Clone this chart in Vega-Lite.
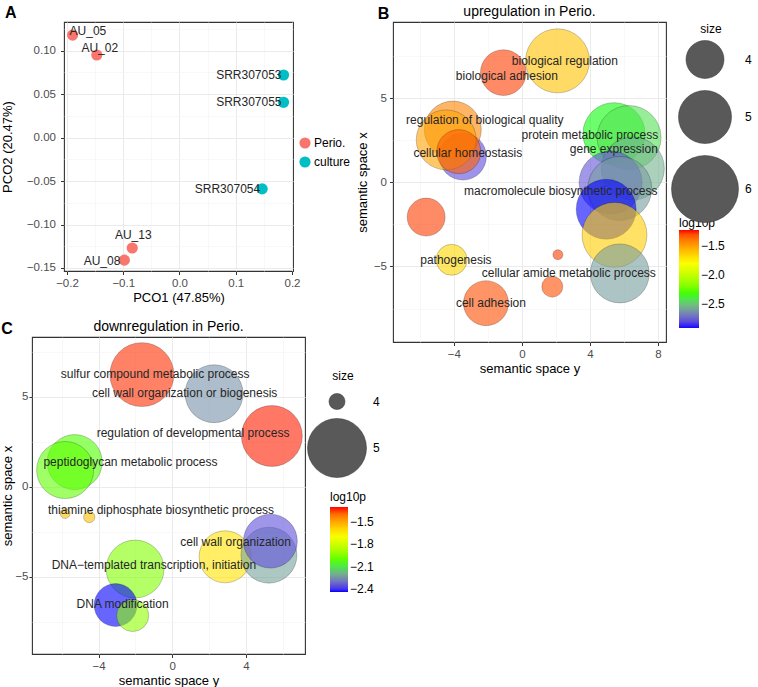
{
 "$schema": "https://vega.github.io/schema/vega-lite/v6.json",
 "background": "white",
 "padding": {"left": 1, "top": 4, "right": 0, "bottom": 0},
 "datasets": {
  "pcoa": [
   {"sample": "AU_05", "group": "Perio.", "PCO1": -0.19, "PCO2": 0.118},
   {"sample": "AU_02", "group": "Perio.", "PCO1": -0.147, "PCO2": 0.095},
   {"sample": "AU_13", "group": "Perio.", "PCO1": -0.084, "PCO2": -0.127},
   {"sample": "AU_08", "group": "Perio.", "PCO1": -0.098, "PCO2": -0.141},
   {"sample": "SRR307053", "group": "culture", "PCO1": 0.185, "PCO2": 0.072},
   {"sample": "SRR307055", "group": "culture", "PCO1": 0.185, "PCO2": 0.0406},
   {"sample": "SRR307054", "group": "culture", "PCO1": 0.147, "PCO2": -0.059}
  ],
  "up": [
   {"term": "biological adhesion", "x": -1.09, "y": 6.53, "size": 4.5, "log10p": -1.27},
   {"term": "biological regulation", "x": 2.1, "y": 7.23, "size": 5.78, "log10p": -1.6},
   {"term": "cellular homeostasis", "x": -3.47, "y": 1.54, "size": 4.59, "log10p": -2.8},
   {"term": "regulation of biological quality", "x": -4.06, "y": 3.14, "size": 5.28, "log10p": -1.42},
   {"term": "term up 5", "x": -4.45, "y": 2.53, "size": 5.49, "log10p": -1.5},
   {"term": "term up 6", "x": -3.71, "y": 1.83, "size": 4.39, "log10p": -1.33},
   {"term": "protein metabolic process", "x": 5.42, "y": 2.9, "size": 5.64, "log10p": -2.35},
   {"term": "term up 8", "x": 6.31, "y": 2.67, "size": 5.78, "log10p": -2.42},
   {"term": "gene expression", "x": 6.53, "y": 0.83, "size": 5.71, "log10p": -2.55},
   {"term": "term up 10", "x": 5.22, "y": -0.01, "size": 5.71, "log10p": -2.78},
   {"term": "term up 11", "x": 5.76, "y": -0.36, "size": 5.78, "log10p": -2.6},
   {"term": "macromolecule biosynthetic process", "x": 4.96, "y": -1.6, "size": 5.49, "log10p": -2.91},
   {"term": "term up 13", "x": 5.45, "y": -3.12, "size": 5.85, "log10p": -1.63},
   {"term": "cellular amide metabolic process", "x": 5.76, "y": -5.41, "size": 5.42, "log10p": -2.6},
   {"term": "term up 15", "x": -5.63, "y": -2.06, "size": 4.0, "log10p": -1.27},
   {"term": "pathogenesis", "x": -4.13, "y": -4.6, "size": 3.58, "log10p": -1.66},
   {"term": "term up 17", "x": 2.12, "y": -4.3, "size": 2.68, "log10p": -1.27},
   {"term": "term up 18", "x": 1.79, "y": -6.2, "size": 3.07, "log10p": -1.3},
   {"term": "cell adhesion", "x": -2.11, "y": -7.18, "size": 4.45, "log10p": -1.3}
  ],
  "up_labels": [
   {"label": "biological regulation", "x": 2.53, "y": 7.22},
   {"label": "biological adhesion", "x": -0.88, "y": 6.33},
   {"label": "regulation of biological quality", "x": -2.18, "y": 3.73},
   {"label": "cellular homeostasis", "x": -3.18, "y": 1.72},
   {"label": "protein metabolic process", "x": 4.0, "y": 2.84},
   {"label": "gene expression", "x": 5.41, "y": 2.01},
   {"label": "macromolecule biosynthetic process", "x": 2.29, "y": -0.53},
   {"label": "pathogenesis", "x": -3.88, "y": -4.62},
   {"label": "cellular amide metabolic process", "x": 2.76, "y": -5.38},
   {"label": "cell adhesion", "x": -1.82, "y": -7.16}
  ],
  "down": [
   {"term": "sulfur compound metabolic process", "x": -1.65, "y": 6.24, "size": 5.19, "log10p": -1.32},
   {"term": "cell wall organization or biogenesis", "x": 2.27, "y": 5.18, "size": 4.96, "log10p": -2.25},
   {"term": "regulation of developmental process", "x": 5.41, "y": 2.83, "size": 5.07, "log10p": -1.31},
   {"term": "peptidoglycan metabolic process", "x": -5.3, "y": 1.38, "size": 4.86, "log10p": -2.02},
   {"term": "term down 5", "x": -5.82, "y": 0.94, "size": 4.93, "log10p": -2.0},
   {"term": "thiamine diphosphate biosynthetic process", "x": -5.82, "y": -1.48, "size": 3.95, "log10p": -1.55},
   {"term": "term down 7", "x": -4.51, "y": -1.67, "size": 3.96, "log10p": -1.55},
   {"term": "term down 8", "x": 2.87, "y": -3.88, "size": 4.76, "log10p": -1.62},
   {"term": "term down 9", "x": 5.25, "y": -3.79, "size": 4.89, "log10p": -2.22},
   {"term": "cell wall organization", "x": 5.33, "y": -3.01, "size": 4.82, "log10p": -2.36},
   {"term": "DNA−templated transcription, initiation", "x": -2.02, "y": -4.56, "size": 4.96, "log10p": -1.95},
   {"term": "DNA modification", "x": -3.08, "y": -6.56, "size": 4.49, "log10p": -2.44},
   {"term": "term down 13", "x": -2.15, "y": -7.14, "size": 4.24, "log10p": -1.93}
  ],
  "down_labels": [
   {"label": "sulfur compound metabolic process", "x": -0.93, "y": 6.26},
   {"label": "cell wall organization or biogenesis", "x": 0.67, "y": 5.21},
   {"label": "regulation of developmental process", "x": 1.13, "y": 2.98},
   {"label": "peptidoglycan metabolic process", "x": -2.27, "y": 1.41},
   {"label": "thiamine diphosphate biosynthetic process", "x": -0.61, "y": -1.28},
   {"label": "cell wall organization", "x": 3.44, "y": -3.04},
   {"label": "DNA−templated transcription, initiation", "x": -1.0, "y": -4.33},
   {"label": "DNA modification", "x": -2.7, "y": -6.5}
  ]
 },
 "spacing": -25,
 "resolve": {"scale": {"color": "independent", "size": "independent"}, "legend": {"color": "independent", "size": "independent"}},
 "hconcat": [
  {
   "columns": 1,
   "align": "none",
   "spacing": 14,
   "resolve": {"scale": {"color": "independent", "size": "independent"}, "legend": {"color": "independent", "size": "independent"}},
   "concat": [
    {
     "spacing": -35,
     "hconcat": [
      {"width": 1, "height": 1, "view": {"stroke": null}, "data": {"values": [{"v": 0}]}, "mark": {"type": "point", "opacity": 0}, "encoding": {}},
      {
       "width": 229, "height": 249,
       "title": {"text": "A", "anchor": "start", "frame": "bounds", "fontSize": 16, "fontWeight": "bold", "offset": 1, "dx": 3},
       "data": {"name": "pcoa"},
       "encoding": {
        "x": {"field": "PCO1", "type": "quantitative",
         "scale": {"domain": [-0.2053, 0.2018], "nice": false, "zero": false},
         "axis": {"title": "PCO1 (47.85%)", "values": [-0.2, -0.15, -0.1, -0.05, 0, 0.05, 0.1, 0.15, 0.2],
          "labelExpr": "abs(datum.value*10-round(datum.value*10))<0.001 ? format(datum.value,'.1f') : ''",
          "gridColor": {"condition": {"test": "abs(datum.value*10-round(datum.value*10))<0.001", "value": "#EBEBEB"}, "value": "#F4F4F4"},
          "gridWidth": {"condition": {"test": "abs(datum.value*10-round(datum.value*10))<0.001", "value": 1}, "value": 0.6},
          "tickOpacity": {"condition": {"test": "abs(datum.value*10-round(datum.value*10))<0.001", "value": 1}, "value": 0},
          "labelFlush": false, "labelOverlap": false, "titlePadding": 2}},
        "y": {"field": "PCO2", "type": "quantitative",
         "scale": {"domain": [-0.1535, 0.133], "nice": false, "zero": false},
         "axis": {"title": "PCO2 (20.47%)", "values": [-0.15, -0.125, -0.1, -0.075, -0.05, -0.025, 0, 0.025, 0.05, 0.075, 0.1, 0.125],
          "labelExpr": "abs(datum.value*20-round(datum.value*20))<0.001 ? format(datum.value,'.2f') : ''",
          "gridColor": {"condition": {"test": "abs(datum.value*20-round(datum.value*20))<0.001", "value": "#EBEBEB"}, "value": "#F4F4F4"},
          "gridWidth": {"condition": {"test": "abs(datum.value*20-round(datum.value*20))<0.001", "value": 1}, "value": 0.6},
          "tickOpacity": {"condition": {"test": "abs(datum.value*20-round(datum.value*20))<0.001", "value": 1}, "value": 0},
          "labelFlush": false, "labelOverlap": false, "labelPadding": 5, "titlePadding": 11.5}}
       },
       "layer": [
        {"mark": {"type": "circle", "size": 125, "opacity": 1},
         "encoding": {"color": {"field": "group", "type": "nominal",
          "scale": {"domain": ["Perio.", "culture"], "range": ["#F8766D", "#00BFC4"]},
          "legend": {"title": null, "orient": "none", "legendX": 267, "legendY": 115, "symbolType": "circle", "symbolSize": 125, "labelFontSize": 12, "rowPadding": 7, "labelOffset": 3, "symbolStrokeWidth": 0}}}},
        {"transform": [{"filter": "datum.sample === 'AU_05'"}],
         "mark": {"type": "text", "align": "left", "dx": -3, "dy": -4, "fontSize": 12, "color": "#262626"},
         "encoding": {"text": {"field": "sample"}}},
        {"transform": [{"filter": "datum.sample === 'AU_02'"}],
         "mark": {"type": "text", "align": "center", "dx": 3, "dy": -7, "fontSize": 12, "color": "#262626"},
         "encoding": {"text": {"field": "sample"}}},
        {"transform": [{"filter": "datum.sample === 'AU_13'"}],
         "mark": {"type": "text", "align": "center", "dx": 1, "dy": -13, "fontSize": 12, "color": "#262626"},
         "encoding": {"text": {"field": "sample"}}},
        {"transform": [{"filter": "datum.group === 'culture'"}],
         "mark": {"type": "text", "align": "right", "dx": -2, "fontSize": 12, "color": "#262626"},
         "encoding": {"text": {"field": "sample"}}},
        {"transform": [{"filter": "datum.sample === 'AU_08'"}],
         "mark": {"type": "text", "align": "right", "dx": -4, "dy": 1, "fontSize": 12, "color": "#262626"},
         "encoding": {"text": {"field": "sample"}}}
       ]
      }
     ]
    },
    {
     "title": {"text": "C", "anchor": "start", "frame": "bounds", "fontSize": 16, "fontWeight": "bold", "offset": -18},
     "vconcat": [
      {
       "width": 273, "height": 317,
       "title": {"text": "downregulation in Perio.", "anchor": "middle", "fontSize": 14, "offset": 3},
       "encoding": {
        "x": {"field": "x", "type": "quantitative",
         "scale": {"domain": [-7.62, 7.21], "nice": false, "zero": false},
         "axis": {"title": "semantic space y", "values": [-6, -4, -2, 0, 2, 4, 6],
          "labelExpr": "datum.value % 4 === 0 ? format(datum.value,'d') : ''",
          "gridColor": {"condition": {"test": "datum.value % 4 === 0", "value": "#EBEBEB"}, "value": "#F4F4F4"},
          "gridWidth": {"condition": {"test": "datum.value % 4 === 0", "value": 1}, "value": 0.6},
          "tickOpacity": {"condition": {"test": "datum.value % 4 === 0", "value": 1}, "value": 0},
          "labelFlush": false, "labelOverlap": false, "titlePadding": 2}},
        "y": {"field": "y", "type": "quantitative",
         "scale": {"domain": [-9.28, 8.33], "nice": false, "zero": false},
         "axis": {"title": "semantic space x", "values": [-7.5, -5, -2.5, 0, 2.5, 5, 7.5],
          "labelExpr": "datum.value % 5 === 0 ? format(datum.value,'d') : ''",
          "gridColor": {"condition": {"test": "datum.value % 5 === 0", "value": "#EBEBEB"}, "value": "#F4F4F4"},
          "gridWidth": {"condition": {"test": "datum.value % 5 === 0", "value": 1}, "value": 0.6},
          "tickOpacity": {"condition": {"test": "datum.value % 5 === 0", "value": 1}, "value": 0},
          "tickSize": 3, "labelFlush": false, "labelOverlap": false, "labelPadding": 1, "titlePadding": 0}}
       },
       "layer": [
        {"data": {"name": "down"},
         "mark": {"type": "circle", "fillOpacity": 0.6, "stroke": "#000000", "strokeOpacity": 0.35, "strokeWidth": 0.6},
         "encoding": {
          "size": {"field": "size", "type": "quantitative",
           "scale": {"type": "linear", "domain": [3.92, 5.3], "range": [0, 4450], "zero": false},
           "legend": {"title": "size", "orient": "none", "legendX": 275, "legendY": 34, "values": [4, 5], "format": "d",
            "symbolFillColor": "#595959", "symbolStrokeColor": "#333333", "symbolOpacity": 1, "symbolStrokeWidth": 0.5,
            "titleAnchor": "middle", "titlePadding": 10, "rowPadding": 6, "labelOffset": 6}},
          "color": {"field": "log10p", "type": "quantitative",
           "scale": {"domain": [-2.44, -2.06, -1.68, -1.3], "range": ["#0000FF", "#00FF00", "#FFFF00", "#FF0000"], "interpolate": "lab"},
           "legend": {"title": "log10p", "orient": "none", "direction": "vertical", "legendX": 298, "legendY": 155,
            "values": [-2.4, -2.1, -1.8, -1.5], "format": ".1f", "gradientLength": 85, "gradientThickness": 18, "titlePadding": 3}}
         }},
        {"data": {"name": "down_labels"},
         "mark": {"type": "text", "fontSize": 12, "color": "#262626"},
         "encoding": {"text": {"field": "label"}}}
       ]
      }
     ]
    }
   ]
  },
  {
   "title": {"text": "B", "anchor": "start", "frame": "bounds", "fontSize": 16, "fontWeight": "bold", "offset": -18, "dx": 22},
   "vconcat": [
    {
     "width": 273, "height": 320,
     "title": {"text": "upregulation in Perio.", "anchor": "middle", "fontSize": 14, "offset": 3},
     "encoding": {
      "x": {"field": "x", "type": "quantitative",
       "scale": {"domain": [-7.58, 8.48], "nice": false, "zero": false},
       "axis": {"title": "semantic space y", "values": [-6, -4, -2, 0, 2, 4, 6, 8],
        "labelExpr": "datum.value % 4 === 0 ? format(datum.value,'d') : ''",
        "gridColor": {"condition": {"test": "datum.value % 4 === 0", "value": "#EBEBEB"}, "value": "#F4F4F4"},
        "gridWidth": {"condition": {"test": "datum.value % 4 === 0", "value": 1}, "value": 0.6},
        "tickOpacity": {"condition": {"test": "datum.value % 4 === 0", "value": 1}, "value": 0},
        "labelFlush": false, "labelOverlap": false, "titlePadding": 2}},
      "y": {"field": "y", "type": "quantitative",
       "scale": {"domain": [-9.49, 9.54], "nice": false, "zero": false},
       "axis": {"title": "semantic space x", "values": [-7.5, -5, -2.5, 0, 2.5, 5, 7.5],
        "labelExpr": "datum.value % 5 === 0 ? format(datum.value,'d') : ''",
        "gridColor": {"condition": {"test": "datum.value % 5 === 0", "value": "#EBEBEB"}, "value": "#F4F4F4"},
        "gridWidth": {"condition": {"test": "datum.value % 5 === 0", "value": 1}, "value": 0.6},
        "tickOpacity": {"condition": {"test": "datum.value % 5 === 0", "value": 1}, "value": 0},
        "labelFlush": false, "labelOverlap": false, "titlePadding": 4}}
     },
     "layer": [
      {"data": {"name": "up"},
       "mark": {"type": "circle", "fillOpacity": 0.6, "stroke": "#000000", "strokeOpacity": 0.35, "strokeWidth": 0.6},
       "encoding": {
        "size": {"field": "size", "type": "quantitative",
         "scale": {"type": "pow", "exponent": 2, "domain": [2.554, 6], "range": [0, 4489], "zero": false},
         "legend": {"title": "size", "orient": "none", "legendX": 278, "legendY": 2, "values": [4, 5, 6], "format": "d",
          "symbolFillColor": "#595959", "symbolStrokeColor": "#333333", "symbolOpacity": 1, "symbolStrokeWidth": 0.5,
          "titleAnchor": "middle", "titlePadding": 4, "rowPadding": 9, "labelOffset": 6}},
        "color": {"field": "log10p", "type": "quantitative",
         "scale": {"domain": [-2.91, -2.347, -1.783, -1.22], "range": ["#0000FF", "#00FF00", "#FFFF00", "#FF0000"], "interpolate": "lab"},
         "legend": {"title": "log10p", "orient": "none", "direction": "vertical", "legendX": 286, "legendY": 196,
          "values": [-2.5, -2.0, -1.5], "format": ".1f", "gradientLength": 98, "gradientThickness": 20, "titlePadding": 0}}
       }},
      {"data": {"name": "up_labels"},
       "mark": {"type": "text", "fontSize": 12, "color": "#262626"},
       "encoding": {"text": {"field": "label"}}}
     ]
    }
   ]
  }
 ],
 "config": {
  "font": "Liberation Sans",
  "view": {"stroke": "#333333", "strokeWidth": 1.1},
  "axis": {"domain": false, "grid": true, "labelColor": "#4D4D4D", "labelFontSize": 11.5, "titleFontSize": 13, "titleFontWeight": "normal", "titleColor": "#000000", "tickColor": "#333333", "tickSize": 3.5, "labelPadding": 3, "titlePadding": 4},
  "legend": {"labelFontSize": 12, "titleFontSize": 12, "titleFontWeight": "normal", "labelColor": "#000000", "titleColor": "#000000"},
  "title": {"fontSize": 14, "fontWeight": "normal", "color": "#000000"},
  "text": {"font": "Liberation Sans"}
 }
}
